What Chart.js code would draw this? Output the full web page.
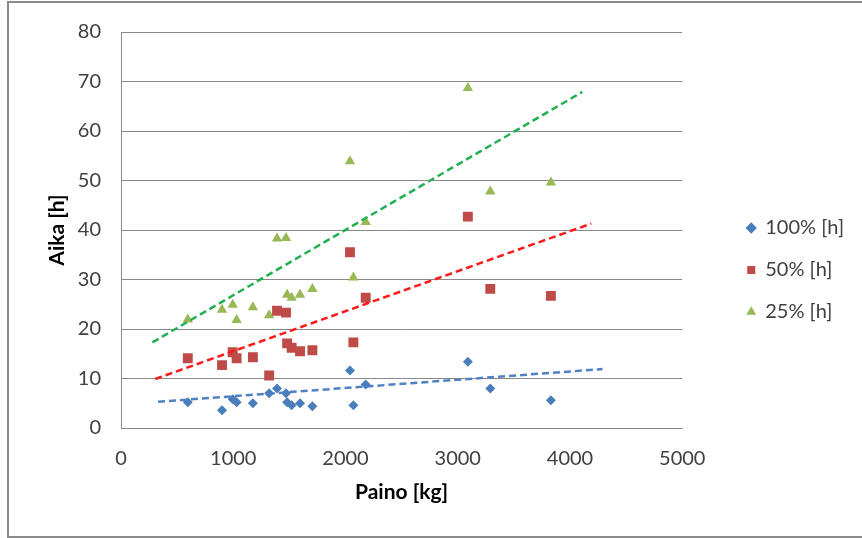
<!DOCTYPE html>
<html>
<head>
<meta charset="utf-8">
<script src="https://cdn.jsdelivr.net/npm/chart.js@4"></script>
<style>
  html, body { margin: 0; padding: 0; background: #fff; }
  #wrap { width: 862px; height: 538px; }
</style>
</head>
<body>
<div id="wrap"><canvas id="chart"></canvas></div>
<script>
// Weight (kg) of each measured item
const paino = [595, 900, 995, 1030, 1175, 1320, 1390, 1470, 1480, 1520, 1595, 1705, 2040, 2070, 2180, 3090, 3290, 3830];

// Time in hours at each load level
const aika100 = [5.2, 3.6, 5.8, 5.2, 5.0, 7.0, 8.0, 7.0, 5.2, 4.6, 5.0, 4.4, 11.6, 4.6, 8.8, 13.4, 8.0, 5.6];
const aika50  = [14.1, 12.7, 15.3, 14.1, 14.3, 10.6, 23.7, 23.3, 17.1, 16.2, 15.5, 15.7, 35.5, 17.3, 26.3, 42.7, 28.1, 26.7];
const aika25  = [21.9, 23.9, 24.9, 21.8, 24.4, 22.8, 38.3, 38.4, 26.9, 26.3, 26.9, 28.1, 53.9, 30.4, 41.6, 68.7, 47.8, 49.6];

// Linear trend lines: [start, end] in kg and hours
const trend100X = [330, 4290];
const trend100Y = [5.3, 11.9];
const trend50X  = [305, 4190];
const trend50Y  = [9.9, 41.3];
const trend25X  = [280, 4110];
const trend25Y  = [17.3, 67.9];

const seriesLabels = ['100% [h]', '50% [h]', '25% [h]'];
const xTicks = [0, 1000, 2000, 3000, 4000, 5000];
const yTicks = [0, 10, 20, 30, 40, 50, 60, 70, 80];

const BLUE  = '#4a7ebb';
const RED   = '#be4b48';
const GREEN = '#98b954';
const GRID  = '#898989';
const TEXT  = '#404040';
const FONT  = 'Lato, "Open Sans", sans-serif';

const pts = (xs, ys) => xs.map((x, i) => ({ x, y: ys[i] }));

function markerSet(label, ys, color, style, radius) {
  return {
    label,
    data: pts(paino, ys),
    backgroundColor: color,
    borderColor: color,
    borderWidth: 0,
    pointStyle: style,
    pointRadius: radius,
    pointHoverRadius: radius,
    showLine: false,
    order: 2,
  };
}

function trendSet(xs, ys, color) {
  return {
    label: '_trend',
    data: pts(xs, ys),
    type: 'line',
    borderColor: color,
    borderWidth: 2.5,
    borderDash: [7, 4],
    pointRadius: 0,
    fill: false,
    order: 1,
  };
}

// thin grey frame around the whole chart
const frame = {
  id: 'frame',
  beforeDraw(chart) {
    const c = chart.ctx;
    c.save();
    c.strokeStyle = '#8a8a8a';
    c.lineWidth = 2;
    c.strokeRect(8, 2, chart.width + 4, chart.height - 3);
    c.restore();
  }
};

new Chart(document.getElementById('chart'), {
  type: 'scatter',
  data: {
    datasets: [
      markerSet(seriesLabels[0], aika100, BLUE, 'rectRot', 5),
      markerSet(seriesLabels[1], aika50, RED, 'rect', 7),
      markerSet(seriesLabels[2], aika25, GREEN, 'triangle', 6),
      trendSet(trend100X, trend100Y, '#4f81c4'),
      trendSet(trend50X, trend50Y, '#ff1a1a'),
      trendSet(trend25X, trend25Y, '#1fb050'),
    ],
  },
  options: {
    responsive: true,
    maintainAspectRatio: false,
    animation: false,
    layout: { padding: { left: 0, right: 8, top: 28, bottom: 26 } },
    plugins: {
      legend: {
        position: 'right',
        labels: {
          usePointStyle: true,
          boxWidth: 8,
          boxHeight: 8,
          padding: 22,
          color: TEXT,
          font: { family: FONT, size: 20 },
          filter: item => !item.text.startsWith('_'),
        },
      },
      tooltip: { enabled: false },
    },
    scales: {
      x: {
        type: 'linear',
        min: 0,
        max: 5000,
        afterBuildTicks: s => { s.ticks = xTicks.map(v => ({ value: v })); },
        afterFit: s => { s.height = 84; },
        grid: { display: false, drawTicks: false },
        border: { display: true, color: GRID, width: 1 },
        ticks: { color: TEXT, font: { family: FONT, size: 20 }, padding: 19, maxRotation: 0, callback: v => String(v) },
        title: {
          display: true,
          text: 'Paino [kg]',
          color: '#000',
          font: { family: FONT, size: 21, weight: 'bold' },
          padding: { top: 0, bottom: 7 },
        },
      },
      y: {
        min: 0,
        max: 80,
        afterBuildTicks: s => { s.ticks = yTicks.map(v => ({ value: v })); },
        afterFit: s => { s.width = 121; },
        grid: { color: GRID, lineWidth: 1, drawTicks: false },
        border: { display: true, color: GRID, width: 1 },
        ticks: { color: TEXT, font: { family: FONT, size: 20 }, padding: 20, callback: v => String(v) },
        title: {
          display: true,
          text: 'Aika [h]',
          color: '#000',
          font: { family: FONT, size: 21, weight: 'bold' },
          padding: { top: 45, bottom: 0 },
        },
      },
      // empty spacer between the plot and the legend
      gap: {
        type: 'linear',
        position: 'right',
        display: true,
        afterFit: s => { s.width = 43; },
        grid: { display: false },
        border: { display: false },
        ticks: { display: false },
      },
    },
  },
  plugins: [frame],
});
</script>
</body>
</html>
